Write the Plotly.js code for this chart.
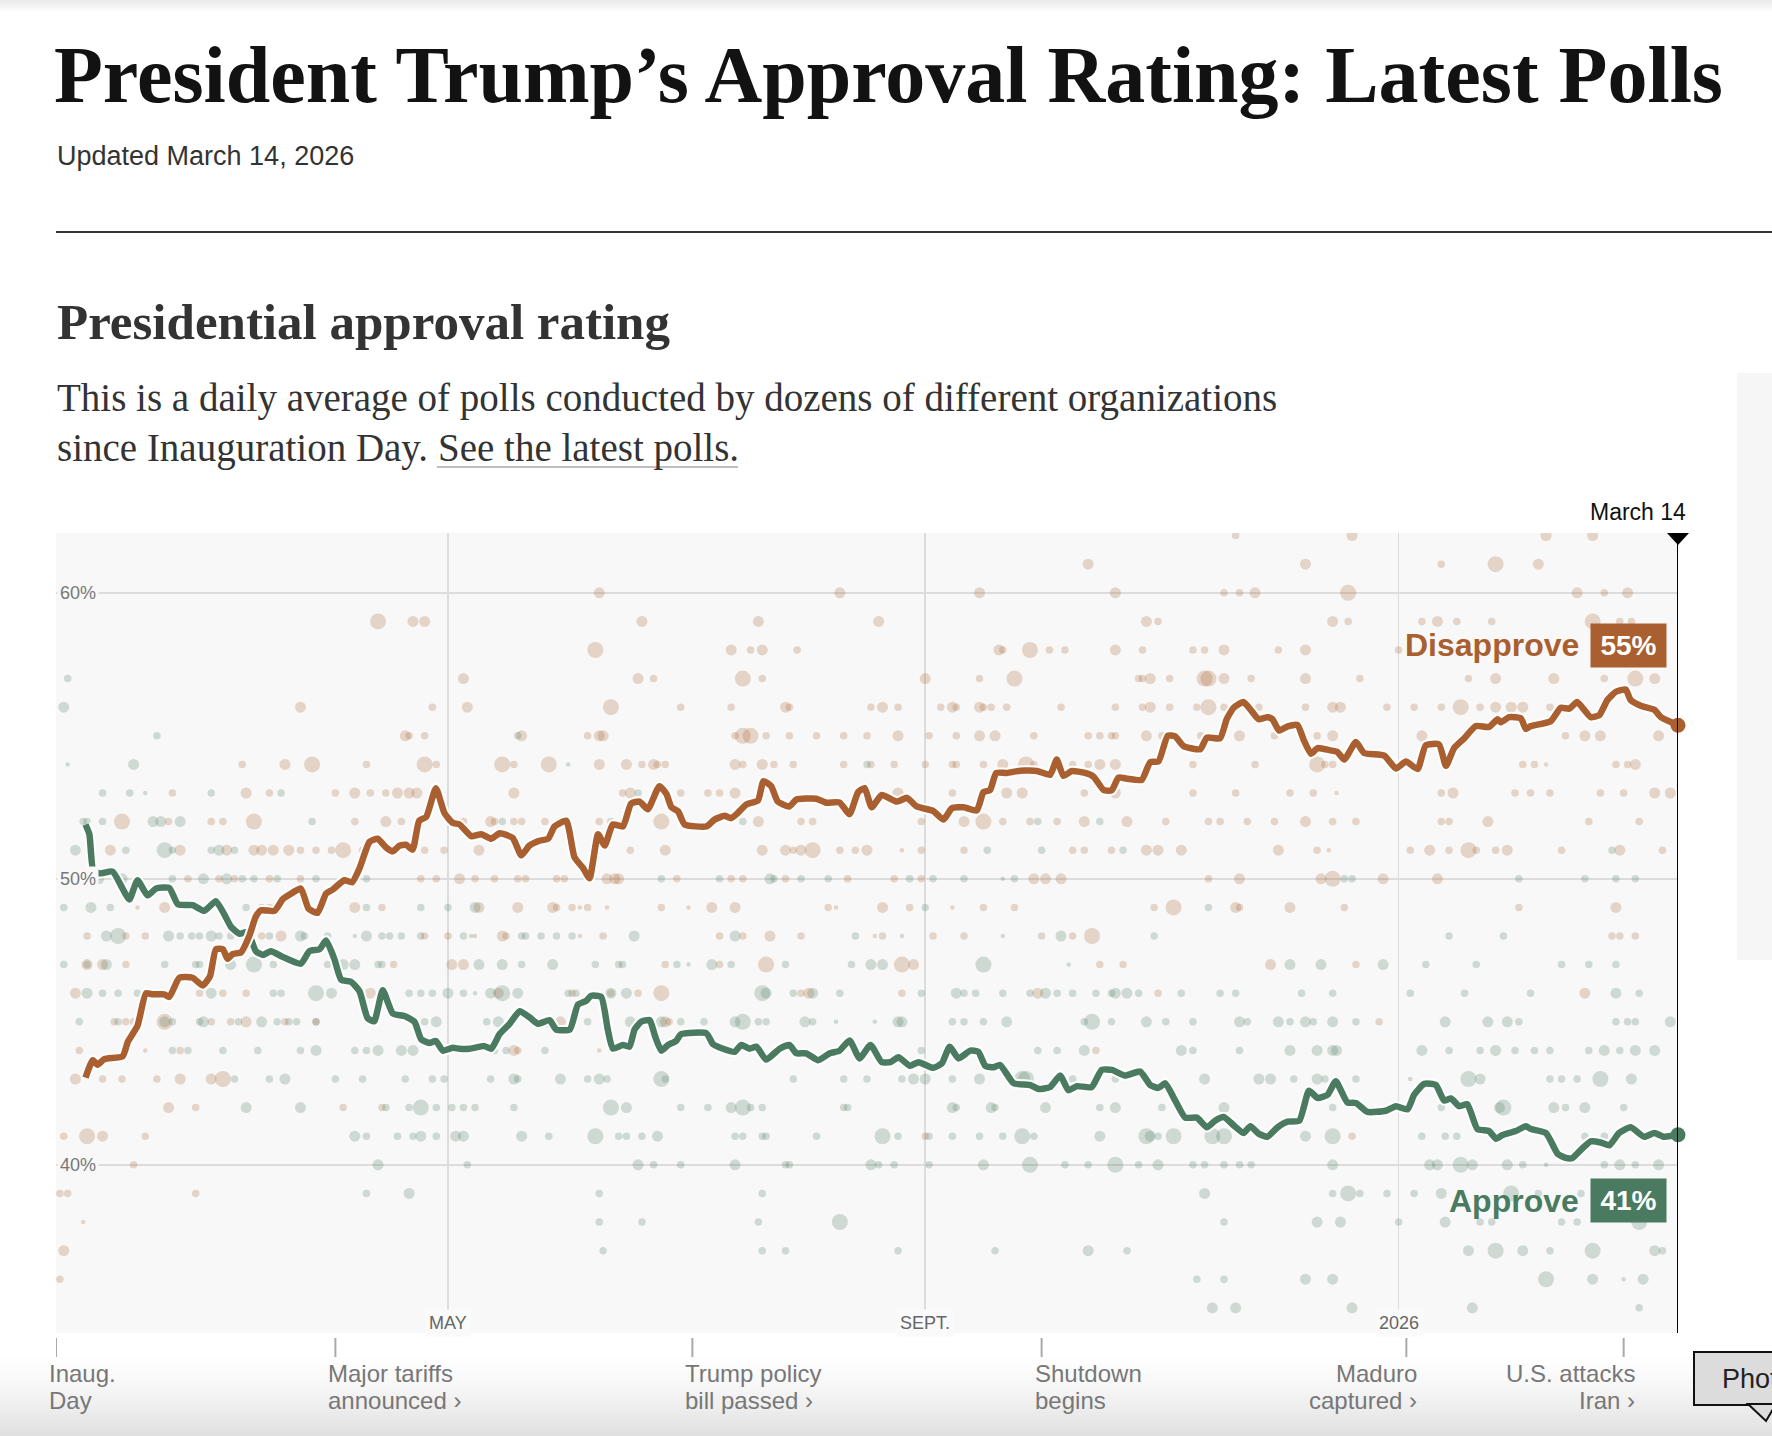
<!DOCTYPE html>
<html><head><meta charset="utf-8">
<script src="https://cdn.plot.ly/plotly-3.0.1.min.js"></script>
<style>html,body{margin:0;padding:0;background:#fff;}#chart{width:1772px;height:1436px;}</style>
</head><body><div id="chart"></div>
<script>
// ---------------- DATA ----------------
// day = days since Inauguration Day (Jan 20, 2025); pct = share in %
const startDate = '2025-01-20';
const disapproveAvg = [
[7.6,43.05],[9.5,43.66],[10.7,43.5],[12.5,43.7],[17.2,43.8],[18.5,44.3],[21,44.86],[23.2,46.0],[24.9,45.96],[27.9,45.96],[29.2,45.87],[31.8,46.54],[35.2,46.54],[37.8,46.27],[39.7,46.6],[41.2,47.54],[43,47.54],[44.2,47.2],[45.5,47.37],[47.7,47.43],[49.8,48.0],[51.5,48.68],[52.8,48.9],[56.3,48.88],[58.4,49.28],[60.1,49.44],[63.1,49.66],[65.1,48.95],[67.4,48.81],[69.6,49.48],[71.3,49.62],[74.3,49.95],[76.3,49.88],[78.2,50.36],[80.8,51.29],[82.9,51.4],[85.1,51.09],[86.8,50.96],[88.5,51.16],[90.2,51.19],[91.9,51.02],[93.6,52.03],[95.4,52.16],[97.9,53.17],[100.1,52.3],[102.2,51.96],[104,51.9],[107,51.49],[109.6,51.56],[112.2,51.4],[114.3,51.59],[117.7,51.43],[119.9,50.82],[122,51.16],[124.6,51.33],[126.8,51.4],[128.5,51.83],[131.5,52.03],[133.6,50.76],[135.8,50.38],[137.5,50.02],[139.7,51.56],[141.4,51.16],[143.5,51.9],[146.1,51.83],[148.2,52.63],[150.4,52.7],[152.5,52.43],[155.5,53.24],[157.3,52.97],[158.6,52.5],[160.3,52.36],[162,51.9],[167.6,51.83],[169.7,52.07],[172.3,52.2],[174,52.12],[175.7,52.3],[177.9,52.6],[180.9,52.74],[182.3,53.41],[184.3,53.24],[186,52.7],[189,52.53],[190.8,52.77],[195.9,52.8],[198.5,52.66],[201.9,52.67],[204.5,52.26],[206.7,53.03],[208.4,53.17],[210.2,52.5],[212.8,52.93],[216.7,52.7],[219.3,52.83],[221.8,52.53],[226.1,52.37],[228.7,52.07],[230.9,52.47],[233.9,52.5],[237.3,52.39],[239.0,53.03],[240.7,53.1],[242.3,53.7],[245.0,53.7],[248.5,53.78],[252.8,53.77],[256.2,53.64],[257.9,54.17],[259.6,53.6],[261.8,53.77],[265.2,53.7],[267.4,53.57],[270,53.1],[272.1,53.1],[273.8,53.54],[276,53.5],[279.8,53.46],[282,54.08],[284.1,54.1],[286.5,55.0],[288.4,54.98],[290.6,54.64],[294.9,54.53],[296.6,54.94],[300,54.91],[301.7,55.58],[303.5,55.98],[306,56.18],[308.2,55.85],[309.9,55.58],[312.2,55.65],[313.5,55.58],[315.2,55.18],[317.4,55.33],[319.9,55.38],[321.6,54.84],[323.4,54.37],[325.1,54.57],[328.1,54.5],[330.2,54.44],[332,54.17],[335,54.78],[337.1,54.4],[342.3,54.31],[345.3,53.86],[347.9,54.1],[350.9,53.84],[353,54.67],[356.4,54.7],[358.2,53.95],[360.3,54.57],[362.9,54.91],[365.9,55.34],[369.3,55.31],[371.5,55.58],[372.3,55.47],[374.5,55.65],[377.5,55.61],[378.8,55.24],[380.1,55.34],[385.2,55.51],[387.8,55.98],[390,55.95],[392,56.18],[393.8,55.91],[395.5,55.65],[397.7,55.72],[399.8,56.25],[402,56.54],[404.5,56.62],[405.8,56.25],[408.4,56.05],[411.9,55.91],[413.6,55.65],[418,55.37]
];
const approveAvg = [
[7.6,51.9],[8.6,51.56],[9.6,50.29],[11.2,50.19],[14.6,50.25],[16.8,49.75],[18.9,49.28],[21,49.95],[23.6,49.42],[25.8,49.66],[29.2,49.68],[31.4,49.11],[35.2,49.08],[38.2,48.88],[41.2,49.22],[43.4,48.75],[45.1,48.32],[47.3,48.08],[49.4,48.14],[51.5,47.47],[53.3,47.34],[55.4,47.47],[58.4,47.27],[63.1,47.03],[65.3,47.47],[67.9,47.54],[69.6,47.84],[71.7,47.21],[73.5,46.47],[76,46.4],[78.2,46.07],[80.3,45.13],[82,45.02],[84.2,46.1],[86.8,45.29],[89.8,45.2],[92.4,45.0],[94.1,44.39],[96.2,44.26],[97.9,44.33],[99.7,43.99],[102.2,44.09],[104,44.06],[106.6,44.06],[110.4,44.15],[112.2,44.06],[114.3,44.57],[116.9,44.93],[119.5,45.37],[122,45.16],[124.2,44.93],[127.2,45.06],[128.9,44.73],[132.4,44.73],[134.5,45.6],[136.6,45.73],[137.9,45.91],[140.5,45.87],[142.2,44.73],[143.5,44.06],[146.1,44.19],[147.8,44.13],[149.1,44.73],[150.8,45.0],[153,45.06],[154.3,44.53],[156,43.99],[157.7,44.19],[159.8,44.33],[161.1,44.57],[167.6,44.6],[169.3,44.22],[171.9,44.06],[174.9,43.95],[176.6,44.19],[178.7,44.06],[180.5,44.13],[183,43.68],[186.5,44.06],[189,44.19],[190.8,43.9],[193.3,43.9],[196.4,43.66],[199.4,43.9],[201.9,43.99],[204.5,44.35],[207.1,43.72],[209.9,44.19],[212.8,43.59],[215,43.59],[217.1,43.76],[220.1,43.46],[222.3,43.59],[226.1,43.39],[228.3,43.55],[230.3,44.13],[232.6,43.72],[235.6,43.99],[237.7,43.95],[239.5,43.46],[241.6,43.41],[243.3,43.49],[246.8,42.85],[251.1,42.79],[253.2,42.65],[256.2,42.72],[258.8,43.12],[260.9,42.61],[263.1,42.75],[266.9,42.72],[269.5,43.32],[272.1,43.32],[275.5,43.12],[279.4,43.26],[282,42.79],[284.1,42.69],[285.9,42.85],[288.4,42.25],[291,41.65],[294,41.65],[296.6,41.31],[298.7,41.54],[300.9,41.67],[303.5,41.38],[306,41.11],[307.8,41.35],[309.9,41.09],[312.2,40.98],[314.8,41.31],[317.4,41.51],[320.4,41.54],[322.9,42.59],[325.1,42.34],[327.7,42.45],[329.8,42.92],[332.8,42.18],[335,42.16],[338,41.85],[342.7,41.89],[345.3,42.05],[348.3,41.94],[350,42.45],[352.6,42.83],[355.6,42.79],[357.7,42.25],[359.5,42.32],[361.6,42.05],[363.7,42.12],[366.3,41.25],[369.3,41.18],[371.1,40.91],[372.8,41.04],[376.2,41.18],[378.8,41.35],[380.1,41.25],[384,41.11],[387,40.38],[389.1,40.24],[390.8,40.24],[393.4,40.58],[395.5,40.82],[398.1,40.78],[400.3,40.68],[402.8,41.11],[405.8,41.31],[409.3,40.98],[411.9,41.11],[414.4,40.98],[418,41.05]
];
// individual polls: [day, pct, sample-size class 0..3]
const disapprovePolls = [
[304,62,1],[334,62,2],[384,62,2],[396,62,2],
[266,61,2],[322,61,2],[357,61,1],[371,61,3],[382,61,2],
[140,60,2],[202,60,2],[238,60,2],[273,60,2],[301,60,1],[305,60,1],[309,60,2],[333,60,3],[392,60,2],[399,60,1],[405,60,2],
[83,59,3],[92,59,2],[95,59,2],[151,59,2],[181,59,2],[212,59,2],[281,59,2],[284,59,1],[329,59,2],[333,59,1],[352,59,1],[356,59,2],[361,59,1],[370,59,1],[396,59,3],[403,59,1],[406,59,1],
[139,58,3],[174,58,2],[179,58,1],[182,58,2],[191,58,1],[243,58,2],[244,58,1],[251,58,3],[256,58,1],[260,58,1],[273,58,2],[280,58,1],[293,58,1],[296,58,1],[301,58,2],[315,58,1],[322,58,2],[346,58,1],
[105,57,2],[150,57,2],[154,57,1],[177,57,3],[182,57,1],[224,57,2],[238,57,1],[247,57,3],[279,57,1],[280,57,1],[282,57,2],[287,57,1],[296,57,3],[297,57,3],[301,57,2],[308,57,1],[322,57,2],[336,57,1],[364,57,1],[371,57,2],[386,57,2],[399,57,1],[407,57,3],[412,57,2],
[63,56,2],[97,56,1],[106,56,2],[143,56,3],[161,56,1],[174,56,1],[188,56,2],[189,56,1],[210,56,1],[213,56,2],[217,56,1],[228,56,1],[231,56,2],[232,56,1],[238,56,2],[239,56,1],[241,56,1],[245,56,1],[259,56,1],[273,56,1],[280,56,1],[282,56,2],[287,56,1],[294,56,1],[297,56,3],[301,56,1],[310,56,1],[322,56,1],[329,56,2],[331,56,2],[343,56,1],[350,56,1],[357,56,1],[362,56,3],[367,56,1],[371,56,2],[375,56,2],[378,56,2],[385,56,1],
[90,55,2],[91,55,1],[95,55,1],[120,55,2],[137,55,1],[140,55,2],[141,55,2],[175,55,1],[177,55,3],[179,55,3],[183,55,1],[189,55,1],[196,55,1],[203,55,1],[209,55,1],[217,55,2],[225,55,1],[232,55,1],[238,55,2],[242,55,2],[252,55,1],[266,55,1],[269,55,1],[272,55,1],[273,55,1],[281,55,2],[285,55,1],[295,55,1],[305,55,2],[314,55,1],[325,55,1],[329,55,2],[352,55,2],[389,55,1],[394,55,2],[398,55,2],[413,55,2],
[48,54,1],[59,54,2],[66,54,3],[80,54,1],[95,54,3],[98,54,1],[115,54,3],[118,54,1],[127,54,3],[140,54,2],[147,54,2],[151,54,1],[154,54,2],[155,54,1],[157,54,1],[175,54,2],[177,54,1],[182,54,2],[185,54,1],[190,54,1],[203,54,1],[210,54,1],[216,54,1],[224,54,1],[231,54,1],[232,54,1],[239,54,1],[244,54,2],[250,54,3],[252,54,1],[262,54,1],[266,54,1],[269,54,2],[273,54,2],[293,54,1],[309,54,1],[325,54,3],[327,54,1],[329,54,1],[378,54,1],[381,54,1],[384,54,0],[402,54,1],[405,54,1],[407,54,2],
[30,53,1],[49,53,2],[55,53,1],[72,53,1],[77,53,2],[81,53,1],[85,53,1],[88,53,2],[91,53,2],[93,53,2],[118,53,2],[146,53,1],[148,53,2],[161,53,1],[168,53,1],[171,53,1],[175,53,2],[217,53,2],[231,53,1],[245,53,2],[249,53,2],[265,53,1],[273,53,2],[293,53,1],[304,53,1],[318,53,1],[324,53,1],[330,53,0],[357,53,1],[360,53,2],[376,53,1],[380,53,1],[385,53,1],[398,53,1],[404,53,1],[412,53,2],[416,53,2],
[17,52,3],[29,52,1],[40,52,1],[43,52,1],[51,52,3],[77,52,1],[85,52,2],[89,52,1],[105,52,1],[112,52,2],[113,52,1],[118,52,1],[120,52,1],[126,52,1],[140,52,1],[156,52,3],[181,52,2],[192,52,1],[195,52,1],[223,52,1],[234,52,2],[239,52,3],[244,52,1],[251,52,1],[258,52,1],[265,52,2],[276,52,2],[286,52,1],[297,52,1],[300,52,1],[307,52,1],[314,52,1],[322,52,2],[329,52,1],[335,52,1],[357,52,1],[359,52,1],[369,52,2],[395,52,1],[408,52,1],
[14,51,2],[32,51,2],[44,51,2],[51,51,2],[53,51,2],[56,51,2],[60,51,2],[63,51,1],[67,51,1],[71,51,1],[74,51,3],[79,51,1],[95,51,1],[100,51,1],[109,51,2],[148,51,1],[157,51,2],[182,51,2],[188,51,2],[190,51,1],[192,51,2],[195,51,3],[202,51,1],[206,51,1],[209,51,2],[218,51,0],[223,51,1],[234,51,1],[262,51,1],[265,51,1],[272,51,1],[281,51,2],[284,51,2],[290,51,2],[315,51,2],[325,51,1],[328,51,0],[349,51,1],[354,51,2],[359,51,1],[364,51,3],[366,51,1],[371,51,1],[374,51,2],[388,51,1],[403,51,2],[414,51,1],
[34,50,1],[42,50,1],[46,50,1],[55,50,1],[63,50,1],[94,50,1],[98,50,1],[104,50,2],[108,50,1],[113,50,1],[119,50,1],[121,50,1],[129,50,1],[131,50,1],[142,50,2],[144,50,2],[145,50,2],[160,50,1],[174,50,1],[177,50,1],[188,50,1],[204,50,1],[216,50,1],[223,50,1],[252,50,2],[255,50,2],[259,50,2],[297,50,1],[305,50,2],[326,50,2],[329,50,3],[342,50,2],[356,50,2],
[21,49,0],[28,49,2],[55,49,1],[57,49,2],[77,49,2],[84,49,1],[109,49,2],[119,49,2],[128,49,2],[129,49,1],[133,49,1],[135,49,0],[137,49,1],[142,49,0],[156,49,1],[163,49,0],[169,49,2],[175,49,2],[199,49,1],[201,49,0],[213,49,2],[220,49,1],[231,49,0],[239,49,1],[247,49,1],[283,49,1],[288,49,3],[304,49,2],[305,49,1],[318,49,2],[332,49,1],[377,49,1],[402,49,2],
[8,48,1],[18,48,1],[23,48,1],[53,48,1],[58,48,2],[95,48,1],[101,48,1],[108,48,0],[115,48,2],[116,48,1],[135,48,0],[141,48,1],[171,48,1],[177,48,1],[184,48,2],[192,48,1],[211,48,0],[213,48,1],[226,48,1],[234,48,1],[254,48,1],[262,48,1],[267,48,3],[401,48,1],[403,48,1],[407,48,1],
[8,47,2],[12,47,2],[18,47,1],[87,47,1],[102,47,2],[105,47,2],[157,47,1],[171,47,1],[183,47,3],[218,47,3],[221,47,2],[269,47,1],[275,47,1],[313,47,2],[335,47,1],
[5,46,2],[28,46,1],[37,46,1],[43,46,1],[49,46,1],[81,46,2],[114,46,2],[133,46,1],[143,46,1],[150,46,1],[156,46,3],[192,46,1],[194,46,2],[218,46,1],[253,46,2],[284,46,1],[394,46,2],
[15,45,1],[18,45,1],[20,45,1],[28,45,3],[40,45,1],[45,45,1],[49,45,2],[59,45,1],[67,45,1],[130,45,2],[157,45,2],[158,45,1],[341,45,1],
[6,44,1],[23,44,0],[32,44,1],[118,44,2],[119,44,1],[140,44,0],[268,44,1],
[5,43,2],[12,43,1],[17,43,1],[26,43,1],[32,43,2],[40,43,2],[43,43,3],
[29,42,2],[36,42,1],[74,42,1],[84,42,1],
[2,41,1],[8,41,3],[12,41,2],[23,41,1],[224,41,1],[334,41,1],
[20,40,1],[1,39,1],[3,39,1],[36,39,1],[7,38,0],[2,37,2],[1,36,1]
];
const approvePolls = [
[3,57,1],[2,56,2],[26,55,1],[119,55,1],
[3,54,0],[20,54,2],[132,54,0],[209,54,1],
[12,53,1],[19,53,1],[23,53,0],[40,53,1],[58,53,1],[150,53,1],
[7,52,1],[8,52,1],[12,52,1],[25,52,2],[27,52,2],[32,52,2],[66,52,1],[115,52,1],[143,52,1],[177,52,1],[253,52,1],[269,52,1],
[5,51,2],[18,51,1],[28,51,3],[30,51,1],[40,51,1],[42,51,2],[46,51,1],[240,51,1],[254,51,1],[275,51,1],[401,51,1],
[11,50,2],[17,50,2],[30,50,1],[38,50,2],[44,50,2],[48,50,1],[51,50,1],[57,50,1],[67,50,1],[80,50,1],[156,50,1],[171,50,1],[184,50,2],[185,50,1],[192,50,1],[199,50,1],[220,50,1],[226,50,1],[234,50,1],[244,50,0],[247,50,1],[332,50,1],[334,50,1],[377,50,1],[394,50,1],[402,50,1],[407,50,1],
[2,49,1],[9,49,2],[14,49,1],[49,49,1],[53,49,1],[80,49,1],[94,49,1],[101,49,1],[108,49,2],[224,49,1],[297,49,1],
[13,48,2],[16,48,3],[29,48,2],[32,48,1],[35,48,1],[37,48,1],[40,48,2],[42,48,1],[45,48,1],[49,48,2],[55,48,1],[63,48,2],[64,48,1],[70,48,1],[77,48,0],[80,48,2],[84,48,1],[86,48,1],[89,48,1],[94,48,1],[105,48,1],[107,48,0],[120,48,1],[121,48,1],[125,48,1],[129,48,1],[133,48,1],[149,48,2],[175,48,2],[206,48,1],[218,48,0],[244,48,0],[259,48,2],[283,48,1],[359,48,1],[373,48,1],
[2,47,1],[8,47,1],[13,47,2],[28,47,1],[36,47,1],[37,47,1],[45,47,2],[51,47,3],[56,47,1],[70,47,1],[74,47,2],[77,47,2],[83,47,1],[84,47,1],[109,47,2],[115,47,2],[120,47,1],[128,47,2],[139,47,1],[145,47,1],[146,47,1],[160,47,1],[163,47,0],[169,47,2],[174,47,1],[188,47,1],[205,47,1],[210,47,2],[213,47,2],[239,47,3],[261,47,0],[318,47,2],[326,47,2],[342,47,2],[353,47,1],[366,47,1],[388,47,1],[395,47,1],[402,47,1],
[8,46,2],[12,46,1],[16,46,1],[21,46,1],[40,46,2],[56,46,1],[58,46,1],[67,46,3],[71,46,2],[91,46,1],[94,46,1],[97,46,1],[101,46,2],[105,46,1],[108,46,0],[112,46,2],[115,46,3],[119,46,2],[132,46,1],[134,46,1],[143,46,2],[147,46,2],[182,46,3],[183,46,2],[190,46,1],[195,46,2],[202,46,1],[223,46,1],[232,46,2],[234,46,1],[237,46,1],[244,46,1],[251,46,1],[255,46,2],[258,46,1],[262,46,1],[268,46,1],[272,46,1],[273,46,2],[276,46,2],[279,46,1],[290,46,1],[300,46,1],[304,46,1],[321,46,1],[329,46,1],[349,46,1],[363,46,1],[380,46,1],[402,46,2],[408,46,1],
[6,45,1],[16,45,1],[28,45,2],[30,45,1],[37,45,1],[38,45,2],[47,45,1],[53,45,2],[57,45,1],[60,45,1],[62,45,1],[67,45,1],[95,45,1],[98,45,2],[111,45,1],[114,45,2],[127,45,2],[137,45,1],[148,45,2],[156,45,2],[161,45,1],[167,45,1],[175,45,2],[177,45,3],[181,45,1],[183,45,1],[193,45,2],[195,45,1],[201,45,0],[211,45,0],[217,45,2],[218,45,2],[231,45,1],[234,45,1],[239,45,1],[245,45,2],[265,45,1],[267,45,3],[272,45,1],[281,45,2],[286,45,1],[293,45,1],[305,45,2],[307,45,1],[315,45,2],[318,45,1],[322,45,2],[324,45,1],[329,45,2],[335,45,1],[358,45,2],[369,45,2],[374,45,2],[377,45,1],[402,45,1],[405,45,1],[407,45,1],[416,45,2],
[30,44,1],[34,44,1],[43,44,1],[52,44,1],[63,44,1],[67,44,2],[77,44,1],[80,44,1],[83,44,2],[89,44,2],[92,44,2],[113,44,1],[116,44,1],[126,44,1],[223,44,1],[253,44,1],[258,44,1],[265,44,2],[290,44,2],[293,44,1],[305,44,1],[318,44,2],[325,44,2],[329,44,2],[330,44,2],[352,44,2],[359,44,1],[367,44,1],[371,44,2],[376,44,1],[381,44,1],[385,44,1],[395,44,1],[399,44,2],[403,44,1],[407,44,2],[412,44,2],
[46,43,1],[55,43,1],[59,43,2],[72,43,1],[79,43,1],[90,43,1],[97,43,1],[100,43,1],[112,43,1],[118,43,2],[119,43,1],[130,43,2],[137,43,1],[140,43,2],[142,43,1],[156,43,3],[157,43,1],[190,43,1],[203,43,1],[209,43,1],[218,43,1],[221,43,2],[224,43,2],[231,43,1],[238,43,2],[249,43,3],[250,43,3],[262,43,1],[273,43,1],[296,43,2],[310,43,2],[313,43,2],[319,43,1],[325,43,2],[327,43,1],[335,43,1],[349,43,0],[364,43,3],[367,43,2],[385,43,1],[388,43,1],[392,43,1],[398,43,3],[406,43,2],
[49,42,2],[63,42,2],[85,42,1],[91,42,1],[94,42,3],[98,42,1],[102,42,1],[105,42,1],[108,42,1],[118,42,1],[143,42,3],[147,42,2],[161,42,1],[168,42,1],[174,42,2],[177,42,3],[179,42,1],[182,42,1],[203,42,1],[204,42,1],[231,42,2],[232,42,1],[241,42,2],[242,42,1],[255,42,2],[269,42,1],[273,42,2],[285,42,1],[301,42,2],[329,42,1],[357,42,1],[372,42,2],[373,42,3],[386,42,2],[389,42,1],[394,42,2],[404,42,1],
[77,41,2],[80,41,1],[88,41,1],[92,41,1],[94,41,2],[98,41,1],[103,41,2],[105,41,2],[120,41,2],[127,41,1],[139,41,3],[145,41,1],[147,41,1],[151,41,1],[155,41,2],[175,41,1],[177,41,1],[182,41,1],[183,41,1],[196,41,1],[213,41,3],[217,41,1],[225,41,1],[231,41,1],[238,41,1],[244,41,1],[249,41,3],[252,41,1],[269,41,2],[281,41,3],[282,41,2],[284,41,1],[288,41,3],[298,41,3],[301,41,3],[322,41,2],[329,41,3],[352,41,1],[358,41,1],[361,41,1],[394,41,1],[399,41,1],
[83,40,2],[106,40,1],[150,40,2],[154,40,1],[161,40,1],[175,40,2],[188,40,1],[189,40,1],[210,40,2],[212,40,1],[216,40,1],[225,40,1],[239,40,2],[251,40,3],[260,40,1],[266,40,1],[273,40,3],[279,40,1],[284,40,2],[293,40,1],[296,40,1],[301,40,1],[305,40,1],[308,40,1],[329,40,2],[354,40,2],[356,40,2],[362,40,3],[365,40,2],[374,40,2],[378,40,1],[384,40,0],[399,40,1],[403,40,2],[407,40,1],[413,40,2],
[80,39,1],[91,39,2],[140,39,1],[182,39,1],[296,39,2],[329,39,1],[333,39,3],[336,39,1],[343,39,1],[350,39,1],[357,39,2],[375,39,3],[382,39,1],[393,39,1],
[140,38,1],[151,38,1],[181,38,1],[202,38,3],[301,38,1],[325,38,2],[331,38,2],[346,38,1],[358,38,2],[367,38,1],[370,38,1],[388,38,1],[392,38,1],[408,38,3],
[141,37,1],[182,37,1],[188,37,1],[217,37,1],[242,37,1],[266,37,2],[276,37,1],[364,37,2],[371,37,3],[378,37,2],[385,37,1],[396,37,3],[412,37,2],[414,37,1],
[294,36,1],[301,36,1],[322,36,2],[329,36,2],[384,36,3],[396,36,2],[404,36,0],[409,36,2],
[298,35,2],[304,35,2],[334,35,2],[365,35,2],[408,35,1]
];
const yTicks = [40, 50, 60];
const yTickLabels = ['40%', '50%', '60%'];
const xTicks = ['2025-05-01', '2025-09-01', '2026-01-01'];
const xTickLabels = ['MAY', 'SEPT.', '2026'];
const eventDates = ['2025-01-20', '2025-04-02', '2025-07-03', '2025-10-01', '2026-01-03', '2026-02-28'];
const eventLabels = [['Inaug.', 'Day'], ['Major tariffs', 'announced ›'], ['Trump policy', 'bill passed ›'], ['Shutdown', 'begins'], ['Maduro', 'captured ›'], ['U.S. attacks', 'Iran ›']];
const eventAlign = ['left', 'left', 'left', 'left', 'right', 'right'];

// ---------------- LAYOUT HELPERS ----------------
const W = 1772, H = 1436, ML = 56, MR = 94, MT = 533, MB = 103;
const PW = W - ML - MR, PH = H - MT - MB;
const px = X => (X - ML) / PW;
const py = Y => (H - MB - Y) / PH;
const BROWN = '#a95f2f', GREEN = '#4a7b61';
const SANS = 'Liberation Sans, Arial, sans-serif';
const SERIF = 'Liberation Serif, Times New Roman, serif';
const DAY = 86400000, T0 = Date.UTC(2025, 0, 20);
function dayToDate(d) { return new Date(T0 + Math.round(d * DAY)).toISOString().slice(0, 19).replace('T', ' '); }
const sizeOf = [4.5, 7.5, 11, 16];
const lastDay = disapproveAvg[disapproveAvg.length - 1][0];
const lastDate = dayToDate(lastDay);
const lastDis = disapproveAvg[disapproveAvg.length - 1][1];
const lastApp = approveAvg[approveAvg.length - 1][1];
const monthNames = ['January','February','March','April','May','June','July','August','September','October','November','December'];
const lastD = new Date(T0 + lastDay * DAY);
const lastLabel = monthNames[lastD.getUTCMonth()] + ' ' + lastD.getUTCDate();

function pollTrace(rows, color) {
  return { type: 'scatter', mode: 'markers', hoverinfo: 'skip', showlegend: false,
    x: rows.map(r => dayToDate(r[0])), y: rows.map(r => r[1]),
    marker: { size: rows.map(r => sizeOf[r[2]]), color: color, line: { width: 0 } } };
}
function lineTrace(rows, color, width) {
  return { type: 'scatter', mode: 'lines', hoverinfo: 'skip', showlegend: false, cliponaxis: false,
    x: rows.map(r => dayToDate(r[0])), y: rows.map(r => r[1]),
    line: { color: color, width: width, shape: 'spline', smoothing: 0.5 } };
}
const traces = [
  pollTrace(disapprovePolls, 'rgba(169,95,47,0.34)'),
  pollTrace(approvePolls, 'rgba(74,123,97,0.34)'),
  lineTrace(approveAvg, '#ffffff', 10.5),
  lineTrace(approveAvg, GREEN, 6.5),
  lineTrace(disapproveAvg, '#ffffff', 10.5),
  lineTrace(disapproveAvg, BROWN, 6.5),
  { type: 'scatter', mode: 'markers', hoverinfo: 'skip', showlegend: false, cliponaxis: false,
    x: [lastDate, lastDate], y: [lastDis, lastApp],
    marker: { size: 15, color: [BROWN, GREEN], line: { width: 0 } } }
];

// measure body text so the link can be underlined in a lighter tone
const BODY = 39;
const mctx = document.createElement('canvas').getContext('2d');
mctx.font = BODY + 'px "Liberation Serif"';
const body2a = 'since Inauguration Day. ';
const body2b = 'See the latest polls.';
const wA = mctx.measureText(body2a).width, wB = mctx.measureText(body2b).width;

// ---------------- ANNOTATIONS ----------------
const ann = [];
function txt(o) { ann.push(Object.assign({ xref: 'paper', yref: 'paper', showarrow: false, xanchor: 'left', yanchor: 'middle' }, o)); }
txt({ x: px(52), y: py(75), text: '<b>President Trump’s Approval Rating: Latest Polls</b>', font: { family: SERIF, size: 80, color: '#121212' } });
txt({ x: px(55), y: py(156), text: 'Updated March 14, 2026', font: { family: SANS, size: 27, color: '#333' } });
txt({ x: px(55), y: py(322), text: '<b>Presidential approval rating</b>', font: { family: SERIF, size: 51, color: '#333' } });
txt({ x: px(55), y: py(398), text: 'This is a daily average of polls conducted by dozens of different organizations', font: { family: SERIF, size: BODY, color: '#333' } });
txt({ x: px(55), y: py(448), text: body2a.trim(), font: { family: SERIF, size: BODY, color: '#333' } });
txt({ x: px(55 + wA), y: py(448), text: body2b, font: { family: SERIF, size: BODY, color: '#333' } });

yTicks.forEach((v, i) => ann.push({ xref: 'paper', yref: 'y', x: 0, y: v, xanchor: 'left', yanchor: 'middle', xshift: 1, showarrow: false,
  text: yTickLabels[i], bgcolor: '#f8f8f8', borderpad: 2, font: { family: SANS, size: 18, color: '#777' } }));
xTicks.forEach((v, i) => ann.push({ xref: 'x', yref: 'paper', x: v, y: py(1323), xanchor: 'center', yanchor: 'middle', showarrow: false,
  text: xTickLabels[i], bgcolor: '#fafafa', borderpad: 3, font: { family: SANS, size: 18, color: '#666' } }));

ann.push({ xref: 'x', yref: 'paper', x: lastDate, y: 1, xanchor: 'right', yanchor: 'bottom', xshift: 10, yshift: 6, showarrow: false,
  text: lastLabel, font: { family: SANS, size: 23, color: '#111' } });
ann.push({ xref: 'x', yref: 'y', x: lastDate, y: lastDis, xanchor: 'right', yanchor: 'middle', xshift: -97, yshift: 80, showarrow: false,
  text: '<b>Disapprove</b>', font: { family: SANS, size: 32, color: BROWN } });
ann.push({ xref: 'x', yref: 'y', x: lastDate, y: lastDis, xanchor: 'right', yanchor: 'middle', xshift: -11, yshift: 80, showarrow: false,
  text: '<b>' + Math.round(lastDis) + '%</b>', bgcolor: BROWN, width: 67, height: 35, borderpad: 4, font: { family: SANS, size: 28, color: '#fff' } });
ann.push({ xref: 'x', yref: 'y', x: lastDate, y: lastApp, xanchor: 'right', yanchor: 'middle', xshift: -97, yshift: -66, showarrow: false,
  text: '<b>Approve</b>', font: { family: SANS, size: 32, color: GREEN } });
ann.push({ xref: 'x', yref: 'y', x: lastDate, y: lastApp, xanchor: 'right', yanchor: 'middle', xshift: -11, yshift: -66, showarrow: false,
  text: '<b>' + Math.round(lastApp) + '%</b>', bgcolor: GREEN, width: 67, height: 35, borderpad: 4, font: { family: SANS, size: 28, color: '#fff' } });

eventDates.forEach((d, i) => {
  eventLabels[i].forEach((line, j) => ann.push({ xref: 'x', yref: 'paper', x: d, y: 0, showarrow: false,
    xanchor: eventAlign[i], yanchor: 'middle', xshift: eventAlign[i] === 'left' ? -9 : 13, yshift: -40 - 27 * j,
    text: line, font: { family: SANS, size: 24, color: '#777' } }));
});
txt({ x: px(1720), y: py(1379), text: 'Photo', font: { family: SANS, size: 27, color: '#222' } });

// ---------------- SHAPES ----------------
const shapes = [];
for (let k = 0; k < 24; k++) {
  const y0 = 1352 + k * 3.5, y1 = y0 + 3.6, a = 0.12 * Math.pow((k + 1) / 24, 1.5);
  shapes.push({ type: 'rect', xref: 'paper', yref: 'paper', x0: px(0), x1: px(W), y0: py(y0), y1: py(y1), fillcolor: 'rgba(0,0,0,' + a.toFixed(3) + ')', line: { width: 0 }, layer: 'below' });
}
for (let k = 0; k < 8; k++) {
  const a = 0.08 * (1 - k / 8);
  shapes.push({ type: 'rect', xref: 'paper', yref: 'paper', x0: px(0), x1: px(W), y0: py(k * 1.5), y1: py(k * 1.5 + 1.6), fillcolor: 'rgba(0,0,0,' + a.toFixed(3) + ')', line: { width: 0 }, layer: 'below' });
}
shapes.push({ type: 'line', xref: 'paper', yref: 'paper', x0: px(56), x1: px(W + 5), y0: py(232), y1: py(232), line: { color: '#333', width: 2 } });
shapes.push({ type: 'line', xref: 'paper', yref: 'paper', x0: px(56 + wA), x1: px(56 + wA + wB), y0: py(467), y1: py(467), line: { color: '#aaa', width: 1.5 } });
shapes.push({ type: 'rect', xref: 'paper', yref: 'paper', x0: px(1737), x1: px(1800), y0: py(960), y1: py(373), fillcolor: '#f6f6f6', line: { width: 0 }, layer: 'below' });
shapes.push({ type: 'line', xref: 'x', yref: 'paper', x0: lastDate, x1: lastDate, y0: 0, y1: 1, line: { color: '#000', width: 2 } });
shapes.push({ type: 'path', xref: 'paper', yref: 'paper',
  path: 'M ' + (1 - 11 / PW) + ' 1 L ' + (1 + 11 / PW) + ' 1 L 1 ' + (1 - 12 / PH) + ' Z', fillcolor: '#000', line: { width: 0 } });
eventDates.forEach(d => shapes.push({ type: 'line', xref: 'x', yref: 'paper', ysizemode: 'pixel', yanchor: 0, x0: d, x1: d, y0: -5, y1: -24, line: { color: '#aaa', width: 2 } }));
shapes.push({ type: 'rect', xref: 'paper', yref: 'paper', x0: px(1694), x1: px(1800), y0: py(1405), y1: py(1352), fillcolor: '#dcdcdc', line: { color: '#111', width: 2 } });
shapes.push({ type: 'path', xref: 'paper', yref: 'paper', path: 'M ' + px(1748) + ' ' + py(1404) + ' L ' + px(1766) + ' ' + py(1421) + ' L ' + px(1776) + ' ' + py(1404) + ' Z', fillcolor: '#dcdcdc', line: { color: '#111', width: 2 } });

const layout = {
  width: W, height: H, margin: { l: ML, r: MR, t: MT, b: MB, pad: 0 },
  paper_bgcolor: '#ffffff', plot_bgcolor: '#f8f8f8', showlegend: false, hovermode: false,
  xaxis: { type: 'date', range: [dayToDate(0), lastDate], tickmode: 'array', tickvals: xTicks, showticklabels: false,
    showgrid: true, gridcolor: '#dcdcdc', gridwidth: 1.5, zeroline: false, showline: false, ticks: '', fixedrange: true },
  yaxis: { range: [34.12, 62.09], tickmode: 'array', tickvals: yTicks, showticklabels: false,
    showgrid: true, gridcolor: '#dcdcdc', gridwidth: 1.5, zeroline: false, showline: false, ticks: '', fixedrange: true },
  annotations: ann, shapes: shapes
};
Plotly.newPlot('chart', traces, layout, { displayModeBar: false, staticPlot: true });
</script></body></html>
